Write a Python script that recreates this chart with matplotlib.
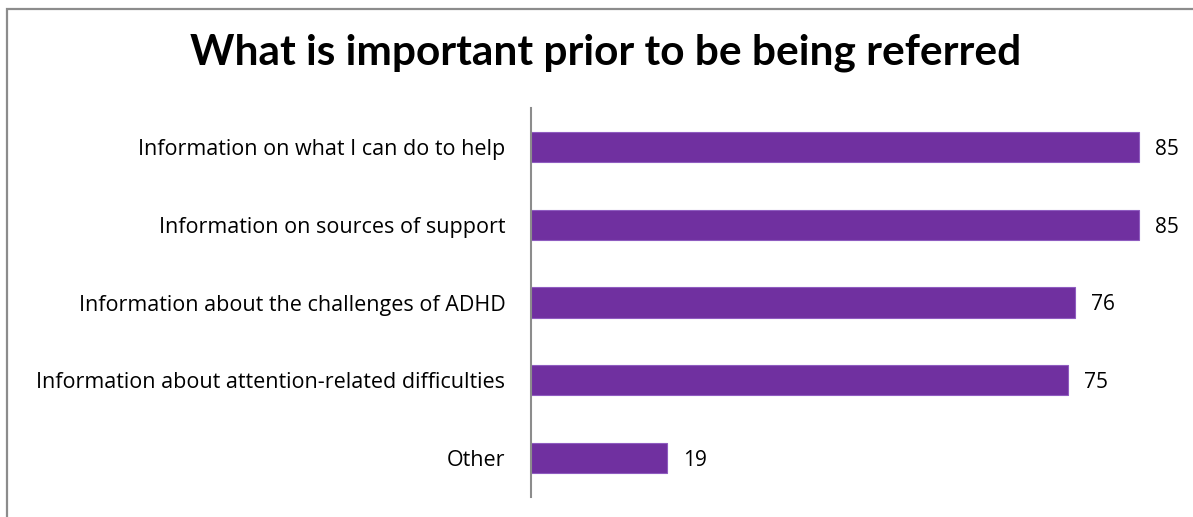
import matplotlib.pyplot as plt
from matplotlib.patches import Rectangle

# survey responses, top to bottom
categories = [
    "Information on what I can do to help",
    "Information on sources of support",
    "Information about the challenges of ADHD",
    "Information about attention-related difficulties",
    "Other",
]
counts = [85, 85, 76, 75, 19]

bar_color = "#7030A0"
plt.rcParams["font.family"] = ["Open Sans", "DejaVu Sans"]

fig = plt.figure(figsize=(11.93, 5.17), dpi=100)

# chart frame (runs off the right and bottom edges)
fig.patches.append(Rectangle((7 / 1193, -0.05), 1.1, (517 - 9) / 517 + 0.05,
                             transform=fig.transFigure, fill=False,
                             edgecolor="#8c8c8c", linewidth=1.6))

ax = fig.add_axes([531 / 1193, 20 / 517, 644 / 1193, 389 / 517])
y = list(range(len(categories)))
ax.barh(y, counts, height=0.39, color=bar_color, edgecolor="#8f5cc0", linewidth=0.8)
ax.set_ylim(len(categories) - 0.5, -0.5)
ax.set_xlim(0, 90)

ax.set_yticks(y)
ax.set_yticklabels(categories, fontsize=15.5)
ax.tick_params(axis="y", length=0, pad=18.5)
ax.set_xticks([])
for side in ["top", "right", "bottom"]:
    ax.spines[side].set_visible(False)
ax.spines["left"].set_color("#8c8c8c")
ax.spines["left"].set_linewidth(1.5)

for yi, v in zip(y, counts):
    ax.annotate(str(v), (v, yi), xytext=(11.5, 0), textcoords="offset points",
                va="center_baseline", ha="left", fontsize=15)

fig.text(606 / 1193, 1 - 53 / 517, "What is important prior to be being referred",
         ha="center", va="center", fontsize=30.5, fontweight="bold",
         family=["Lato", "DejaVu Sans"])

fig.savefig("out.png", dpi=100)
